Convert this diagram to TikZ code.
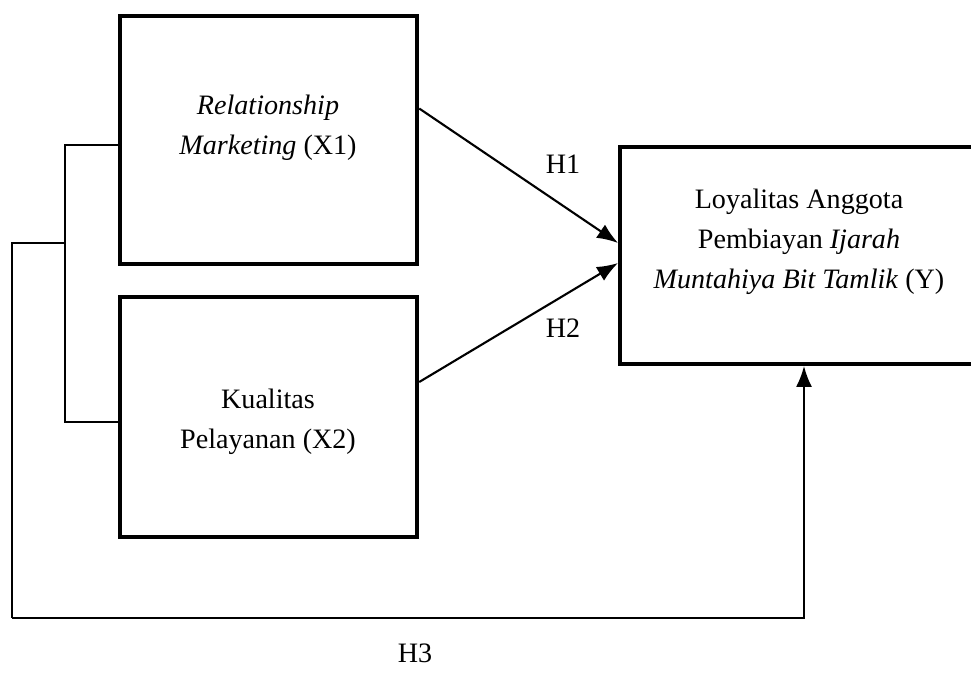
\documentclass[tikz,border=0pt]{standalone}
\usepackage{fontspec}
\setmainfont{Liberation Serif}
\usetikzlibrary{arrows.meta}

\begin{document}
\begin{tikzpicture}[
        x=0.02cm, y=-0.02cm,
        box/.style={rectangle, draw, line width=2.3pt, inner sep=0pt},
        txt/.style={align=center, font=\fontsize{16}{22.8}\selectfont},
        arrow/.style={-{Latex[length=4.2mm, width=3.2mm]}, line width=1.2pt},
        link/.style={line width=0.9pt}
    ]
        \clip (0,0) rectangle (971,673);

        % Variabel bebas
        \node[box, minimum width=5.95cm, minimum height=4.97cm] (x1) at (268.5,140) {};
        \node[txt] (x1text) at (268,128) {\textit{Relationship}\\\textit{Marketing} (X1)};

        \node[box, minimum width=5.95cm, minimum height=4.8cm] (x2) at (268.5,417) {};
        \node[txt] (x2text) at (268,422) {Kualitas\\Pelayanan (X2)};

        % Variabel terikat
        \node[box, minimum width=7.36cm, minimum height=4.34cm] (y) at (804,255.5) {};
        \node[txt] (ytext) at (799,242) {Loyalitas Anggota\\Pembiayan \textit{Ijarah}\\\textit{Muntahiya Bit Tamlik} (Y)};

        % Hipotesis
        \draw[arrow] ([yshift=0.63cm]x1.east) -- ([yshift=0.25cm]y.west);
        \draw[arrow] ([yshift=0.7cm]x2.east) -- ([yshift=-0.15cm]y.west);
        \node[txt] (h1) at (563,164) {H1};
        \node[txt] (h2) at (563,328) {H2};

        % Simultan
        \coordinate (bt) at (65,145);
        \coordinate (bb) at (65,422);
        \coordinate (jn) at (65,243);
        \coordinate (cl) at (12,243);
        \coordinate (cb) at (12,618);
        \draw[link] (x1.west |- bt) -- (bt) -- (bb) -- (x2.west |- bb);
        \draw[link] (jn) -- (cl) -- (cb);
        \draw[arrow, line width=1pt] (cb) -| (y.south);
        \node[txt] (h3) at (415,653) {H3};

    \end{tikzpicture}
\end{document}
